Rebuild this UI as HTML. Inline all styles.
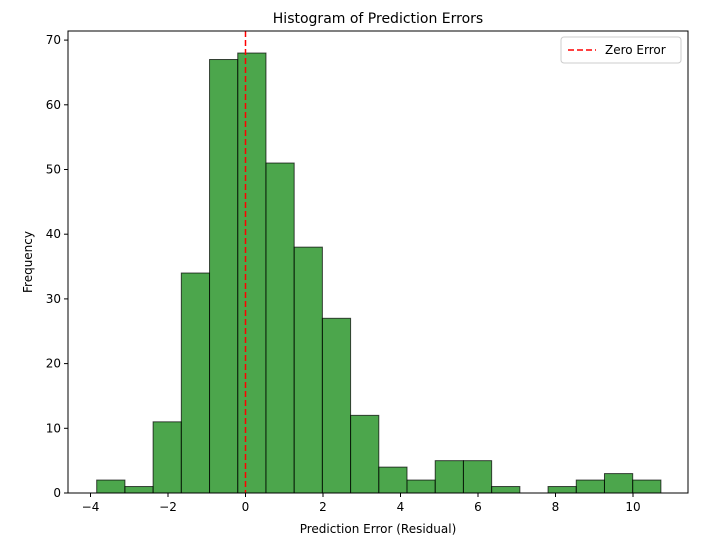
<!DOCTYPE html>
<html><head><meta charset="utf-8"><style>
body{margin:0;background:#fff}
svg{display:block;font-family:"DejaVu Sans","Liberation Sans",sans-serif}
</style></head><body>
<svg id="chart" width="724" height="536"></svg>
<script>
const counts=[2,1,11,34,67,68,51,38,27,12,4,2,5,5,1,0,1,2,3,2];
const binStart=-3.84;
const binWidth=0.728;
const xTicks=[-4,-2,0,2,4,6,8,10];
const yTicks=[0,10,20,30,40,50,60,70];
const L=68,R=688,T=31,B=493;
const x=v=>245.5+(v)*38.75;
const y=v=>B-v*6.47;
const svg=document.getElementById('chart');
const NS='http://www.w3.org/2000/svg';
function el(t,a,p){const e=document.createElementNS(NS,t);for(const k in a)e.setAttribute(k,a[k]);(p||svg).appendChild(e);return e;}
const bars=el('g',{});


counts.forEach((c,i)=>{
 const x0=x(binStart+i*binWidth),x1=x(binStart+(i+1)*binWidth);
 const r=el('rect',{x:x0,y:y(c),width:x1-x0,height:B-y(c),fill:'rgba(0,128,0,0.7)',stroke:'rgba(0,0,0,0.7)','stroke-width':1},bars);
 
 
});
const zl=el('line',{x1:x(0),x2:x(0),y1:T,y2:B,stroke:'#f00','stroke-width':1.5,'stroke-dasharray':'6,3'});


const frame=el('rect',{x:L,y:T,width:R-L,height:B-T,fill:'none',stroke:'#000','stroke-width':1});


xTicks.forEach(v=>{
 el('line',{x1:x(v),x2:x(v),y1:B,y2:B+4,stroke:'#000'});
 const t=el('text',{x:x(v),y:B+18,'text-anchor':'middle','font-size':12});
 t.textContent=(v<0?'\u2212'+(-v):v);
 
 
});
yTicks.forEach(v=>{
 el('line',{x1:L-4,x2:L,y1:y(v),y2:y(v),stroke:'#000'});
 const t=el('text',{x:L-7,y:y(v)+4,'text-anchor':'end','font-size':12});
 t.textContent=v;
 
 
});
</script>
<svg style="position:absolute;left:0;top:0" width="724" height="536">
<text x="378" y="23" text-anchor="middle" font-size="14">Histogram of Prediction Errors</text>
<text x="378" y="533" text-anchor="middle" font-size="12">Prediction Error (Residual)</text>
<text x="32" y="262" text-anchor="middle" font-size="12" transform="rotate(-90 32 262)">Frequency</text>
<g>
<rect x="561" y="37" width="120" height="26" rx="3" fill="#fff" stroke="#ccc"/>
<line x1="568" y1="50" x2="596" y2="50" stroke="#f00" stroke-width="1.5" stroke-dasharray="6,3"/>
<text x="605" y="54" font-size="12">Zero Error</text>
</g>
</svg>
</body></html>
